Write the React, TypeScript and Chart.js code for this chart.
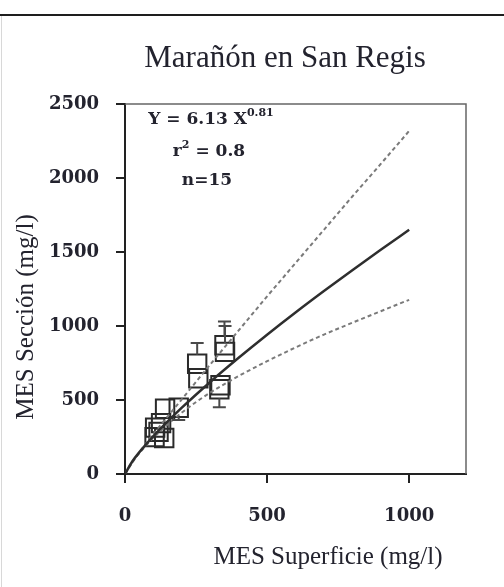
import React, { useEffect, useRef } from "react";
import { Chart, registerables } from "chart.js";

Chart.register(...registerables);

const chartTitle = "Marañón en San Regis";
const xAxisTitle = "MES Superficie (mg/l)";
const yAxisTitle = "MES Sección (mg/l)";
const eqMain = "Y = 6.13 X";
const eqExp = "0.81";
const r2Base = "r";
const r2Exp = "2";
const r2Rest = " = 0.8";
const nText = "n=15";

const xTickValues = [0, 500, 1000];
const yTickValues = [0, 500, 1000, 1500, 2000, 2500];

// observed points (MES superficie, MES sección)
const obsX = [254, 258, 350, 352, 332, 336, 141, 189, 106, 127, 138, 104, 118];
const obsY = [745, 647, 870, 825, 573, 600, 441, 448, 313, 344, 243, 249, 285];
const errHigh = [885, null, 1030, 1000, null, null, null, null, null, null, null, null, null];
const errLow = [null, null, null, null, 451, null, null, 365, null, null, null, null, null];

// fitted curve and confidence band
const curveX = [0, 25, 50, 100, 200, 300, 400, 500, 600, 700, 800, 900, 1000];
const fitY = [0, 83, 146, 256, 448, 622, 785, 941, 1091, 1236, 1377, 1515, 1650];
const upperY = [0, 75, 145, 270, 505, 740, 970, 1200, 1425, 1650, 1875, 2095, 2318];
const lowerY = [0, 80, 140, 245, 415, 550, 662, 762, 855, 942, 1022, 1100, 1177];

const TEXT = "#23232e";
const SERIF = "'Liberation Serif', serif";
const TICKFONT = "'DejaVu Serif', serif";

const pts = (xs: number[], ys: number[]) => xs.map((x, i) => ({ x, y: ys[i] }));

const extrasPlugin = {
  id: "extras",
  beforeDatasetsDraw(chart: any) {
    const { ctx, chartArea: a } = chart;
    ctx.save();
    ctx.strokeStyle = "#666";
    ctx.lineWidth = 1.5;
    ctx.beginPath();
    ctx.moveTo(a.left, a.top);
    ctx.lineTo(a.right, a.top);
    ctx.lineTo(a.right, a.bottom);
    ctx.stroke();
    ctx.restore();
  },
  afterDatasetsDraw(chart: any) {
    const { ctx } = chart;
    const xs = chart.scales.x;
    const ys = chart.scales.y;
    const half = 9;
    ctx.save();
    ctx.strokeStyle = "#4a4a4a";
    ctx.lineWidth = 2;
    obsX.forEach((xv, i) => {
      const px = xs.getPixelForValue(xv);
      const py = ys.getPixelForValue(obsY[i]);
      const hi = errHigh[i];
      const lo = errLow[i];
      if (hi != null) {
        const ph = ys.getPixelForValue(hi);
        ctx.beginPath();
        ctx.moveTo(px, py - half);
        ctx.lineTo(px, ph);
        ctx.moveTo(px - 6.5, ph);
        ctx.lineTo(px + 6.5, ph);
        ctx.stroke();
      }
      if (lo != null) {
        const pl = ys.getPixelForValue(lo);
        ctx.beginPath();
        ctx.moveTo(px, py + half);
        ctx.lineTo(px, pl);
        ctx.moveTo(px - 6.5, pl);
        ctx.lineTo(px + 6.5, pl);
        ctx.stroke();
      }
    });
    ctx.restore();
  },
  afterDraw(chart: any) {
    const { ctx, chartArea: a } = chart;
    ctx.save();
    ctx.fillStyle = TEXT;
    // title
    ctx.font = `31px ${SERIF}`;
    ctx.textAlign = "center";
    ctx.textBaseline = "alphabetic";
    ctx.fillText(chartTitle, 285, 67);
    // x axis title
    ctx.font = `25px ${SERIF}`;
    ctx.fillText(xAxisTitle, 328, 564);
    // y axis title
    ctx.save();
    ctx.translate(33, 317);
    ctx.rotate(-Math.PI / 2);
    ctx.fillText(yAxisTitle, 0, 0);
    ctx.restore();
    // equation block
    const cx = a.left + 86;
    ctx.font = `bold 17px ${TICKFONT}`;
    const w1 = ctx.measureText(eqMain).width;
    ctx.font = `bold 11px ${TICKFONT}`;
    const e1 = ctx.measureText(eqExp).width;
    let sx = cx - (w1 + e1) / 2;
    ctx.textAlign = "left";
    ctx.font = `bold 17px ${TICKFONT}`;
    ctx.fillText(eqMain, sx, a.top + 20);
    ctx.font = `bold 11px ${TICKFONT}`;
    ctx.fillText(eqExp, sx + w1, a.top + 12);

    ctx.font = `bold 17px ${TICKFONT}`;
    const rw = ctx.measureText(r2Base).width;
    const rr = ctx.measureText(r2Rest).width;
    ctx.font = `bold 11px ${TICKFONT}`;
    const re = ctx.measureText(r2Exp).width;
    sx = cx - 2 - (rw + re + rr) / 2;
    ctx.font = `bold 17px ${TICKFONT}`;
    ctx.fillText(r2Base, sx, a.top + 52);
    ctx.fillText(r2Rest, sx + rw + re, a.top + 52);
    ctx.font = `bold 11px ${TICKFONT}`;
    ctx.fillText(r2Exp, sx + rw, a.top + 44);

    ctx.font = `bold 17px ${TICKFONT}`;
    ctx.textAlign = "center";
    ctx.fillText(nText, cx - 4, a.top + 81);
    ctx.restore();
  },
};

export default function App() {
  const ref = useRef<HTMLCanvasElement | null>(null);

  useEffect(() => {
    if (!ref.current) return;
    const chart = new Chart(ref.current, {
      type: "scatter",
      data: {
        datasets: [
          {
            label: "Ajuste",
            type: "line",
            data: pts(curveX, fitY),
            borderColor: "#2e2e2e",
            borderWidth: 2.5,
            pointRadius: 0,
            cubicInterpolationMode: "monotone",
            fill: false,
            order: 1,
          } as any,
          {
            label: "Límite superior",
            type: "line",
            data: pts(curveX, upperY),
            borderColor: "#7a7a7a",
            borderWidth: 2,
            borderDash: [4, 3],
            pointRadius: 0,
            cubicInterpolationMode: "monotone",
            fill: false,
            order: 2,
          } as any,
          {
            label: "Límite inferior",
            type: "line",
            data: pts(curveX, lowerY),
            borderColor: "#7a7a7a",
            borderWidth: 2,
            borderDash: [4, 3],
            pointRadius: 0,
            cubicInterpolationMode: "monotone",
            fill: false,
            order: 3,
          } as any,
          {
            label: "Observado",
            data: pts(obsX, obsY),
            pointStyle: "rect",
            pointRadius: 13,
            pointBorderWidth: 2,
            pointBorderColor: "#2a2a2a",
            pointBackgroundColor: "rgba(255,255,255,0)",
            order: 4,
          } as any,
        ],
      },
      options: {
        animation: false,
        responsive: false,
        layout: { padding: { top: 104, right: 38, left: 0, bottom: 0 } },
        plugins: {
          legend: { display: false },
          tooltip: { enabled: false },
          title: { display: false },
        },
        scales: {
          x: {
            type: "linear",
            min: 0,
            max: 1200,
            afterFit: (s: any) => {
              s.height = 113;
            },
            afterBuildTicks: (s: any) => {
              s.ticks = xTickValues.map((v) => ({ value: v }));
            },
            ticks: {
              padding: 23,
              color: TEXT,
              font: { family: TICKFONT, size: 18, weight: "bold" },
              callback: (v: any) => String(v),
            },
            grid: {
              drawOnChartArea: false,
              drawTicks: true,
              tickLength: 9,
              color: "#222",
              lineWidth: 2,
            },
            border: { display: true, color: "#222", width: 2 },
          },
          y: {
            type: "linear",
            min: 0,
            max: 2500,
            afterFit: (s: any) => {
              s.width = 125;
            },
            afterBuildTicks: (s: any) => {
              s.ticks = yTickValues.map((v) => ({ value: v }));
            },
            ticks: {
              padding: 17,
              color: TEXT,
              font: { family: TICKFONT, size: 18, weight: "bold" },
              callback: (v: any) => String(v),
            },
            grid: {
              drawOnChartArea: false,
              drawTicks: true,
              tickLength: 9,
              color: "#222",
              lineWidth: 2,
            },
            border: { display: true, color: "#222", width: 2 },
          },
        },
      },
      plugins: [extrasPlugin],
    } as any);
    return () => chart.destroy();
  }, []);

  return (
    <div
      style={{
        position: "fixed",
        left: 0,
        top: 0,
        width: 504,
        height: 587,
        background: "#fff",
        overflow: "hidden",
      }}
    >
      <div
        style={{
          position: "absolute",
          left: 0,
          top: 14,
          width: 504,
          height: 2,
          background: "#1e1e1e",
        }}
      />
      <div
        style={{
          position: "absolute",
          left: 1,
          top: 16,
          width: 1,
          height: 571,
          background: "#d8d8d8",
        }}
      />
      <canvas
        ref={ref}
        width={504}
        height={587}
        style={{ position: "absolute", left: 0, top: 0, width: 504, height: 587 }}
      />
    </div>
  );
}
